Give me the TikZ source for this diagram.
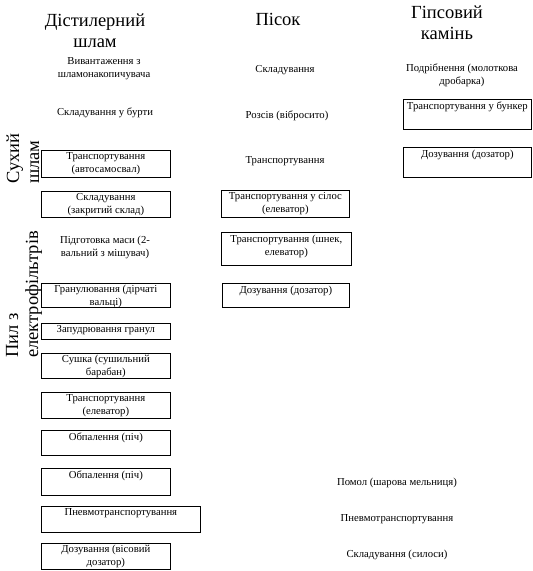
\documentclass[tikz,border=0pt]{standalone}
\usepackage{fontspec}
\setmainfont{Liberation Serif}
\usepackage{tikz}
\usetikzlibrary{positioning}

\begin{document}
\begin{tikzpicture}[x=1pt,y=-1pt,font=\fontsize{10.7}{13}\selectfont,
  stagebox/.style={draw,line width=0.7pt,anchor=north west,inner sep=0pt,minimum width=129},
  stagetext/.style={align=center,inner sep=1pt},
  heading/.style={align=center,inner sep=0pt,font=\fontsize{18.5}{21}\selectfont},
  sidehead/.style={align=left,rotate=90,anchor=west,inner sep=0pt,font=\fontsize{18.5}{20}\selectfont}]
  \useasboundingbox (0,0) rectangle (533,571);
  \node[heading] (slamHead) at (95,31) {Дістилерний\\шлам};
  \node[heading] (pisokHead) at (278,19) {Пісок};
  \node[heading] (gipsHead) at (447,23) {Гіпсовий\\камінь};
  \node[sidehead] (suhHead) at (23,184) {Сухий\\шлам};
  \node[sidehead] (pylHead) at (24,358) {Пил з\\електрофільтрів};

  \node[stagetext] (vyvant) at (104,69) {Вивантаження з\\шламонакопичувача};
  \node[stagetext] (burty) at (105,113) {Складування у бурти};
  \node[stagebox,minimum height=27] (avtoBox) at (41,150) {};
  \node[stagetext,below=1.5pt of avtoBox.north] (avto) {Транспортування\\(автосамосвал)};
  \node[stagebox,minimum height=26] (skladBox) at (41,191) {};
  \node[stagetext,below=1.5pt of skladBox.north] (sklad) {Складування\\(закритий склад)};
  \node[stagetext] (pidgot) at (105,247) {Підготовка маси (2-\\вальний з мішувач)};
  \node[stagebox,minimum height=24] (granBox) at (41,283) {};
  \node[stagetext,below=1pt of granBox.north] (gran) {Гранулювання (дірчаті\\вальці)};
  \node[stagebox,minimum height=16] (zapudBox) at (41,323) {};
  \node[stagetext,below=1pt of zapudBox.north] (zapud) {Запудрювання гранул};
  \node[stagebox,minimum height=25] (sushBox) at (41,353) {};
  \node[stagetext,below=1pt of sushBox.north] (sush) {Сушка (сушильний\\барабан)};
  \node[stagebox,minimum height=26] (elevBox) at (41,392) {};
  \node[stagetext,below=1.5pt of elevBox.north] (elev) {Транспортування\\(елеватор)};
  \node[stagebox,minimum height=25] (pich1Box) at (41,430) {};
  \node[stagetext,below=1.5pt of pich1Box.north] (pich1) {Обпалення (піч)};
  \node[stagebox,minimum height=27] (pich2Box) at (41,468) {};
  \node[stagetext,below=1.5pt of pich2Box.north] (pich2) {Обпалення (піч)};
  \node[stagebox,minimum height=26,minimum width=159] (pnevBox) at (41,506) {};
  \node[stagetext,below=1.5pt of pnevBox.north] (pnev) {Пневмотранспортування};
  \node[stagebox,minimum height=26] (dozBox) at (41,543) {};
  \node[stagetext,below=1pt of dozBox.north] (doz) {Дозування (вісовий\\дозатор)};

  \node[stagetext] (pSklad) at (285,70) {Складування};
  \node[stagetext] (pRozsiv) at (287,116) {Розсів (вібросито)};
  \node[stagetext] (pTransp) at (285,161) {Транспортування};
  \node[stagebox,minimum height=27,minimum width=128] (pSilosBox) at (221,190) {};
  \node[stagetext,below=1.5pt of pSilosBox.north] (pSilos) {Транспортування у сілос\\(елеватор)};
  \node[stagebox,minimum height=33,minimum width=130] (pShnekBox) at (221,232) {};
  \node[stagetext,below=1.5pt of pShnekBox.north] (pShnek) {Транспортування (шнек,\\елеватор)};
  \node[stagebox,minimum height=24,minimum width=127] (pDozBox) at (222,283) {};
  \node[stagetext,below=1.5pt of pDozBox.north] (pDoz) {Дозування (дозатор)};

  \node[stagetext] (gPodr) at (462,75) {Подрібнення (молоткова\\дробарка)};
  \node[stagebox,minimum height=30,minimum width=128] (gBunkBox) at (403,99) {};
  \node[stagetext,below=1.5pt of gBunkBox.north] (gBunk) {Транспортування у бункер};
  \node[stagebox,minimum height=30,minimum width=128] (gDozBox) at (403,147) {};
  \node[stagetext,below=1.5pt of gDozBox.north] (gDoz) {Дозування (дозатор)};

  \node[stagetext] (pomol) at (397,483) {Помол (шарова мельниця)};
  \node[stagetext] (pnevAll) at (397,519) {Пневмотранспортування};
  \node[stagetext] (silosy) at (397,555) {Складування (силоси)};
\end{tikzpicture}
\end{document}
